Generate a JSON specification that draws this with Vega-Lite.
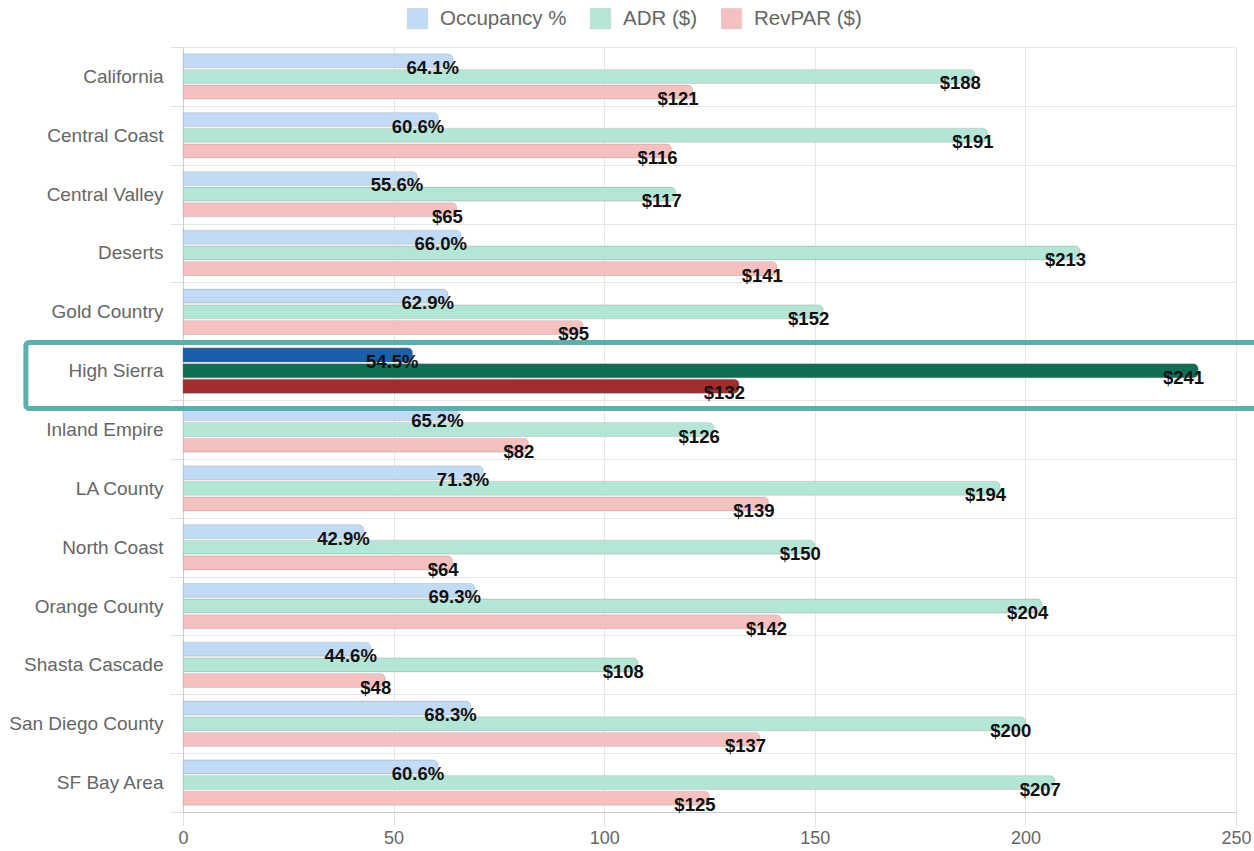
{
  "$schema": "https://vega.github.io/schema/vega-lite/v6.json",
  "width": 1053,
  "height": 765,
  "autosize": {"type": "none"},
  "padding": {"left": 183, "top": 47, "right": 18, "bottom": 39},
  "background": "white",
  "config": {
    "view": {"stroke": null},
    "font": "Liberation Sans",
    "axis": {"labelFont": "Liberation Sans", "labelColor": "#666666", "gridColor": "#e6e6e6", "tickColor": "#e0e0e0", "domainColor": "#cccccc", "title": null},
    "legend": {"labelFont": "Liberation Sans"}
  },
  "datasets": {
    "bars": [
      {"region": "California", "series": "Occupancy %", "value": 64.1, "label": "64.1%"},
      {"region": "California", "series": "ADR ($)", "value": 188, "label": "$188"},
      {"region": "California", "series": "RevPAR ($)", "value": 121, "label": "$121"},
      {"region": "Central Coast", "series": "Occupancy %", "value": 60.6, "label": "60.6%"},
      {"region": "Central Coast", "series": "ADR ($)", "value": 191, "label": "$191"},
      {"region": "Central Coast", "series": "RevPAR ($)", "value": 116, "label": "$116"},
      {"region": "Central Valley", "series": "Occupancy %", "value": 55.6, "label": "55.6%"},
      {"region": "Central Valley", "series": "ADR ($)", "value": 117, "label": "$117"},
      {"region": "Central Valley", "series": "RevPAR ($)", "value": 65, "label": "$65"},
      {"region": "Deserts", "series": "Occupancy %", "value": 66.0, "label": "66.0%"},
      {"region": "Deserts", "series": "ADR ($)", "value": 213, "label": "$213"},
      {"region": "Deserts", "series": "RevPAR ($)", "value": 141, "label": "$141"},
      {"region": "Gold Country", "series": "Occupancy %", "value": 62.9, "label": "62.9%"},
      {"region": "Gold Country", "series": "ADR ($)", "value": 152, "label": "$152"},
      {"region": "Gold Country", "series": "RevPAR ($)", "value": 95, "label": "$95"},
      {"region": "High Sierra", "series": "Occupancy %", "value": 54.5, "label": "54.5%"},
      {"region": "High Sierra", "series": "ADR ($)", "value": 241, "label": "$241"},
      {"region": "High Sierra", "series": "RevPAR ($)", "value": 132, "label": "$132"},
      {"region": "Inland Empire", "series": "Occupancy %", "value": 65.2, "label": "65.2%"},
      {"region": "Inland Empire", "series": "ADR ($)", "value": 126, "label": "$126"},
      {"region": "Inland Empire", "series": "RevPAR ($)", "value": 82, "label": "$82"},
      {"region": "LA County", "series": "Occupancy %", "value": 71.3, "label": "71.3%"},
      {"region": "LA County", "series": "ADR ($)", "value": 194, "label": "$194"},
      {"region": "LA County", "series": "RevPAR ($)", "value": 139, "label": "$139"},
      {"region": "North Coast", "series": "Occupancy %", "value": 42.9, "label": "42.9%"},
      {"region": "North Coast", "series": "ADR ($)", "value": 150, "label": "$150"},
      {"region": "North Coast", "series": "RevPAR ($)", "value": 64, "label": "$64"},
      {"region": "Orange County", "series": "Occupancy %", "value": 69.3, "label": "69.3%"},
      {"region": "Orange County", "series": "ADR ($)", "value": 204, "label": "$204"},
      {"region": "Orange County", "series": "RevPAR ($)", "value": 142, "label": "$142"},
      {"region": "Shasta Cascade", "series": "Occupancy %", "value": 44.6, "label": "44.6%"},
      {"region": "Shasta Cascade", "series": "ADR ($)", "value": 108, "label": "$108"},
      {"region": "Shasta Cascade", "series": "RevPAR ($)", "value": 48, "label": "$48"},
      {"region": "San Diego County", "series": "Occupancy %", "value": 68.3, "label": "68.3%"},
      {"region": "San Diego County", "series": "ADR ($)", "value": 200, "label": "$200"},
      {"region": "San Diego County", "series": "RevPAR ($)", "value": 137, "label": "$137"},
      {"region": "SF Bay Area", "series": "Occupancy %", "value": 60.6, "label": "60.6%"},
      {"region": "SF Bay Area", "series": "ADR ($)", "value": 207, "label": "$207"},
      {"region": "SF Bay Area", "series": "RevPAR ($)", "value": 125, "label": "$125"}
    ],
    "highlight": [{"region": "High Sierra"}]
  },
  "data": {"name": "bars"},
  "encoding": {
    "y": {
      "field": "region", "type": "nominal", "sort": null,
      "scale": {"paddingInner": 0, "paddingOuter": 0},
      "axis": {"tickBand": "extent", "grid": true, "tickSize": 13, "labelFontSize": 19, "labelPadding": 7, "domainColor": "#cccccc"}
    }
  },
  "layer": [
    {
      "mark": {"type": "bar", "cornerRadiusEnd": 5, "stroke": "#888888", "strokeOpacity": 0.3, "strokeWidth": 0.8},
      "encoding": {
        "x": {"field": "value", "type": "quantitative", "scale": {"domain": [0, 250], "nice": false},
          "axis": {"values": [0, 50, 100, 150, 200, 250], "grid": true, "tickSize": 14, "labelFontSize": 18, "labelPadding": 3, "labelFlush": false}},
        "yOffset": {"field": "series", "type": "nominal", "sort": ["Occupancy %", "ADR ($)", "RevPAR ($)"],
          "scale": {"domain": ["Occupancy %", "ADR ($)", "RevPAR ($)"], "paddingInner": 0.105, "paddingOuter": 0.43}},
        "color": {"field": "series", "type": "nominal",
          "scale": {"domain": ["Occupancy %", "ADR ($)", "RevPAR ($)"], "range": ["#c1dbf6", "#b4e6d8", "#f5c0c0"]},
          "legend": {"orient": "none", "legendX": 224, "legendY": -39, "direction": "horizontal", "title": null,
            "symbolType": "square", "symbolSize": 420, "symbolStrokeColor": "#c8c8c8", "symbolStrokeWidth": 0.5,
            "labelFontSize": 20.5, "labelColor": "#666666", "labelOffset": 12, "columnPadding": 22}}
      }
    },
    {
      "transform": [{"filter": "datum.region === 'High Sierra'"}],
      "mark": {"type": "bar", "cornerRadiusEnd": 5, "stroke": "#666666", "strokeOpacity": 0.3, "strokeWidth": 0.8},
      "encoding": {
        "x": {"field": "value", "type": "quantitative"},
        "yOffset": {"field": "series", "type": "nominal", "sort": ["Occupancy %", "ADR ($)", "RevPAR ($)"]},
        "fill": {"field": "series", "type": "nominal",
          "scale": {"domain": ["Occupancy %", "ADR ($)", "RevPAR ($)"], "range": ["#1b5fa8", "#116e54", "#a12d2e"]},
          "legend": null}
      }
    },
    {
      "mark": {"type": "text", "align": "right", "baseline": "middle", "dx": 6, "dy": 7, "fontSize": 18.5, "fontWeight": "bold", "color": "#111111", "font": "Liberation Sans"},
      "encoding": {
        "x": {"field": "value", "type": "quantitative"},
        "yOffset": {"field": "series", "type": "nominal", "sort": ["Occupancy %", "ADR ($)", "RevPAR ($)"]},
        "text": {"field": "label"}
      }
    },
    {
      "data": {"name": "highlight"},
      "mark": {"type": "rect", "height": 66, "yOffset": 4.8, "fill": "transparent", "stroke": "#5bafad", "strokeWidth": 5, "cornerRadius": 3, "clip": false},
      "encoding": {
        "x": {"datum": -37.3, "type": "quantitative"},
        "x2": {"datum": 262}
      }
    }
  ]
}
